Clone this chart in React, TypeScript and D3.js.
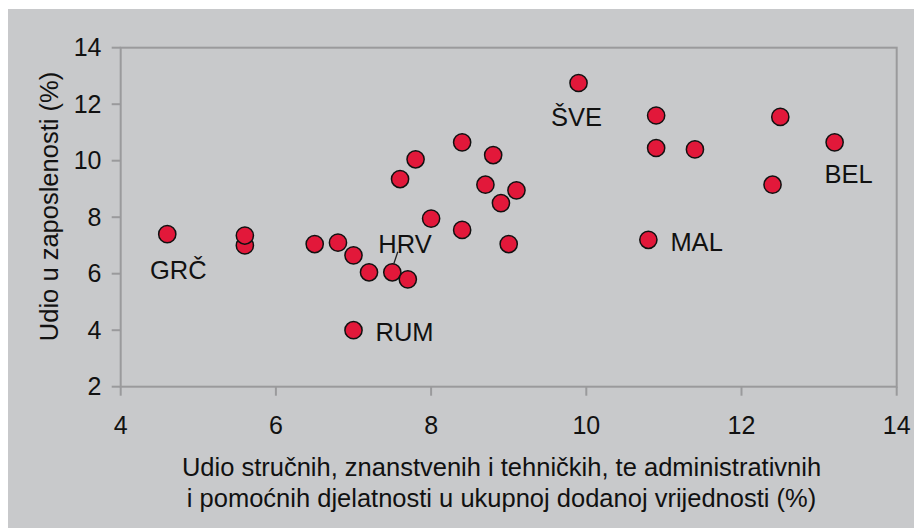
import * as d3 from 'd3'

// share of professional/scientific/technical + admin services in GVA (%)
const xShare = [4.6, 5.6, 5.6, 6.5, 6.8, 7.0, 7.2, 7.5, 7.7, 7.0, 7.6, 7.8, 8.0, 8.4, 8.4, 8.8, 8.7, 9.1, 8.9, 9.0, 9.9, 10.9, 10.9, 11.4, 10.8, 12.5, 12.4, 13.2]
// share in employment (%)
const yShare = [7.4, 7.0, 7.35, 7.05, 7.1, 6.65, 6.05, 6.05, 5.8, 4.0, 9.35, 10.05, 7.95, 10.65, 7.55, 10.2, 9.15, 8.95, 8.5, 7.05, 12.75, 11.6, 10.45, 10.4, 7.2, 11.55, 9.15, 10.65]
const pointLabels = ['GRČ', '', '', '', '', '', '', 'HRV', '', 'RUM', '', '', '', '', '', '', '', '', '', '', 'ŠVE', '', '', '', 'MAL', '', '', 'BEL']

const xTicks = [4, 6, 8, 10, 12, 14]
const yTicks = [2, 4, 6, 8, 10, 12, 14]
const xTitle = ['Udio stručnih, znanstvenih i tehničkih, te administrativnih', 'i pomoćnih djelatnosti u ukupnoj dodanoj vrijednosti (%)']
const yTitle = 'Udio u zaposlenosti (%)'

// label placement relative to the point: dx, dy (baseline), anchor
const labelPos: Record<string, [number, number, string]> = {
  'GRČ': [11, 45, 'middle'],
  'HRV': [-14, -19, 'start'],
  'RUM': [22, 11, 'start'],
  'ŠVE': [-2, 43, 'middle'],
  'MAL': [22, 11, 'start'],
  'BEL': [14, 41, 'middle'],
}

const W = 914
const H = 528
const FONT = '"Liberation Sans", Arial, sans-serif'
const AXIS = '#9a9a9c'

export default function App() {
  const x = d3.scaleLinear().domain([4, 14]).range([120.7, 896.7])
  const y = d3.scaleLinear().domain([2, 14]).range([386.7, 47.7])
  const [x0, x1] = x.range()
  const [y0, y1] = y.range()

  return (
    <svg width={W} height={H} style={{ position: 'absolute', left: 0, top: 0, fontFamily: FONT }}>
      <rect x={8} y={9} width={W - 8} height={H - 9} fill="#c8c9cb" />

      {/* plot frame */}
      <rect x={x0} y={y1} width={x1 - x0} height={y0 - y1} fill="none" stroke={AXIS} strokeWidth={2} />

      {/* x ticks */}
      {xTicks.map((t) => (
        <g key={'x' + t}>
          <line x1={x(t)} x2={x(t)} y1={y0} y2={y0 + 9} stroke={AXIS} strokeWidth={2} />
          <text x={x(t)} y={434} textAnchor="middle" style={{ fontSize: 25, fill: '#111' }}>{t}</text>
        </g>
      ))}

      {/* y ticks */}
      {yTicks.map((t) => (
        <g key={'y' + t}>
          <line x1={x0 - 9} x2={x0} y1={y(t)} y2={y(t)} stroke={AXIS} strokeWidth={2} />
          <text x={101.5} y={y(t)} dy="0.35em" textAnchor="end" style={{ fontSize: 25, fill: '#111' }}>{t}</text>
        </g>
      ))}

      {/* axis titles */}
      {xTitle.map((line, i) => (
        <text key={i} x={501.5} y={476 + i * 30.7} textAnchor="middle" style={{ fontSize: 25.5, fill: '#111' }}>{line}</text>
      ))}
      <text transform={`translate(58,206.5) rotate(-90)`} textAnchor="middle" style={{ fontSize: 25.5, fill: '#111' }}>{yTitle}</text>

      {/* HRV leader line */}
      <line x1={x(7.5) + 1.5} y1={y(6.05) - 8.5} x2={x(7.5) + 5.5} y2={y(6.05) - 20.5} stroke="#222" strokeWidth={1.3} />

      {/* points */}
      {xShare.map((v, i) => (
        <circle key={i} cx={x(v)} cy={y(yShare[i])} r={8.6} fill="#e2183a" stroke="#111" strokeWidth={1.5} />
      ))}

      {/* country labels */}
      {pointLabels.map((lab, i) => {
        if (!lab) return null
        const [dx, dy, anchor] = labelPos[lab]
        return (
          <text key={lab} x={x(xShare[i]) + dx} y={y(yShare[i]) + dy} textAnchor={anchor as any}
            style={{ fontSize: 25.5, fill: '#111' }}>
            {lab}
          </text>
        )
      })}
    </svg>
  )
}
